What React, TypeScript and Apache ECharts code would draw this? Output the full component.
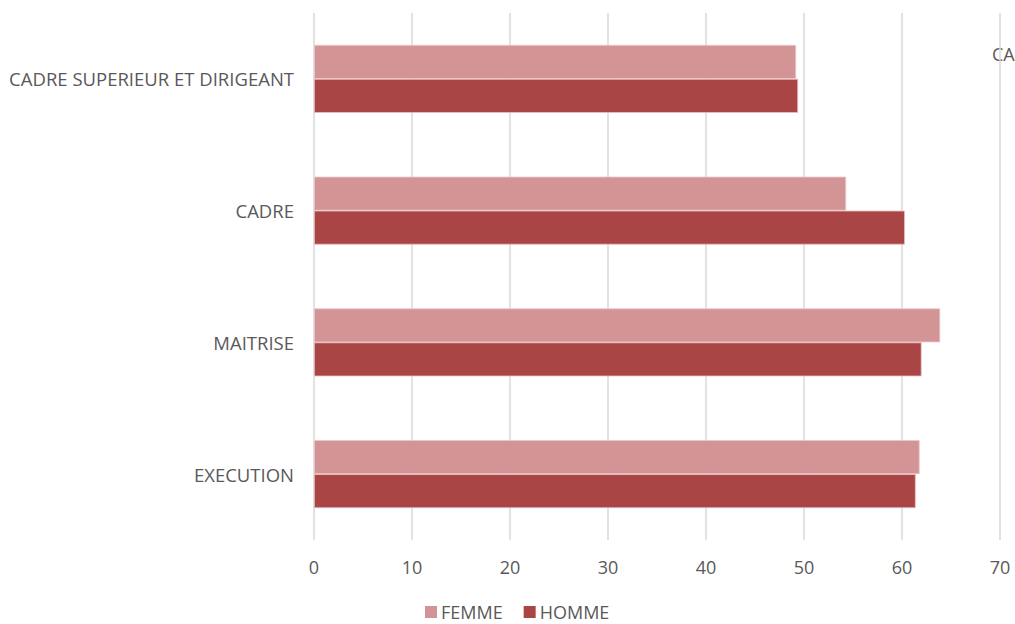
import React, { useEffect, useRef } from "react";
import * as echarts from "echarts";

const categories = ["CADRE SUPERIEUR ET DIRIGEANT", "CADRE", "MAITRISE", "EXECUTION"];
const femme = [49.2, 54.3, 63.9, 61.8];
const homme = [49.4, 60.3, 62.0, 61.4];
const xTicks = { min: 0, max: 70, interval: 10 };

export default function App() {
  const ref = useRef<HTMLDivElement>(null);
  useEffect(() => {
    document.body.style.margin = "0";
    const chart = echarts.init(ref.current!, null, { renderer: "svg" });
    const font = "'Open Sans', sans-serif";
    chart.setOption({
      animation: false,
      textStyle: { fontFamily: font },
      grid: { left: 314, right: 15, top: 13, bottom: 84, containLabel: false },
      legend: {
        left: 425,
        top: 603,
        padding: 0,
        itemWidth: 12,
        itemHeight: 12,
        itemGap: 21,
        icon: "rect",
        itemStyle: { borderWidth: 0 },
        textStyle: { fontSize: 18, color: "#595959", fontFamily: font, padding: [0, 0, 0, -1] },
        data: ["FEMME", "HOMME"],
      },
      xAxis: {
        type: "value",
        min: xTicks.min,
        max: xTicks.max,
        interval: xTicks.interval,
        axisLine: { show: false },
        axisTick: { show: false },
        axisLabel: { fontSize: 18, color: "#595959", margin: 18, fontFamily: font },
        splitLine: { show: true, lineStyle: { color: "#d9d9d9", width: 1.5 } },
      },
      yAxis: {
        type: "category",
        data: categories,
        inverse: true,
        axisLine: { show: false },
        axisTick: { show: false },
        axisLabel: { fontSize: 18.5, color: "#595959", margin: 20, fontFamily: font },
      },
      series: [
        {
          name: "FEMME",
          type: "bar",
          data: femme,
          barWidth: 34,
          barGap: "0%",
          itemStyle: { color: "#d29494", borderColor: "#ecc9c9", borderWidth: 0.8 },
        },
        {
          name: "HOMME",
          type: "bar",
          data: homme,
          barWidth: 34,
          barGap: "0%",
          itemStyle: { color: "#a94545", borderColor: "#e8c0c0", borderWidth: 0.8 },
        },
      ],
      graphic: [
        {
          type: "text",
          left: 992,
          top: 45,
          style: { text: "CA", fontSize: 18, fill: "#595959", fontFamily: font },
        },
      ],
    });
    return () => chart.dispose();
  }, []);
  return <div ref={ref} style={{ width: 1015, height: 624 }} />;
}
